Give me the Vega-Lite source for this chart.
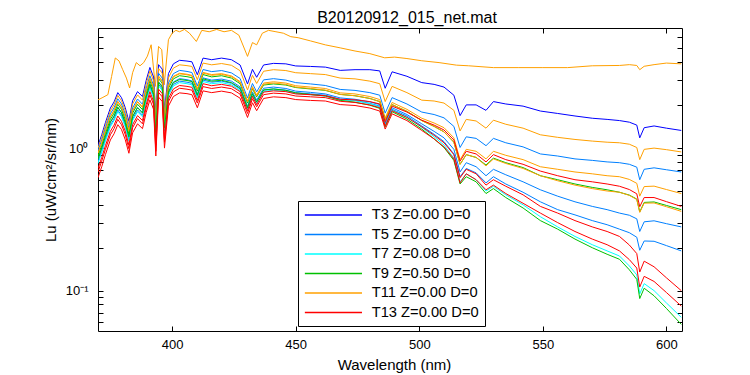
{
"$schema": "https://vega.github.io/schema/vega-lite/v6.json",
"width": 584, "height": 303,
"autosize": {"type": "none"},
"padding": {"left": 98, "top": 28, "right": 68, "bottom": 44},
"background": "white",
"title": {"text": "B20120912_015_net.mat", "font": "Liberation Sans", "fontSize": 16, "fontWeight": "normal", "color": "black", "anchor": "middle", "baseline": "alphabetic", "offset": 6, "dx": 17, "dy": 18},
"config": {"view": {"stroke": "black", "strokeWidth": 1}, "font": "Liberation Sans"},
"resolve": {"axis": {"x": "independent", "y": "independent"}},
"datasets": {"d": [
{"s":"a","w":370,"v":2.18},{"s":"a","w":372,"v":2.27},{"s":"a","w":374,"v":2.37},{"s":"a","w":375.5,"v":3.18},{"s":"a","w":377,"v":4.29},{"s":"a","w":378.5,"v":4.09},{"s":"a","w":380,"v":3.55},{"s":"a","w":381.5,"v":3.1},{"s":"a","w":382.8,"v":2.64},{"s":"a","w":384,"v":3.38},{"s":"a","w":385.5,"v":3.98},{"s":"a","w":387,"v":3.78},{"s":"a","w":388.5,"v":3.98},{"s":"a","w":390,"v":4.42},{"s":"a","w":391.5,"v":5.31},{"s":"a","w":393.2,"v":2.71},{"s":"a","w":394.5,"v":5.17},{"s":"a","w":395.8,"v":4.9},{"s":"a","w":396.8,"v":2.78},{"s":"a","w":398.5,"v":5.76},{"s":"a","w":400,"v":6.41},{"s":"a","w":401.5,"v":6.7},{"s":"a","w":403,"v":6.55},{"s":"a","w":405,"v":6.8},{"s":"a","w":407,"v":6.4},{"s":"a","w":409.8,"v":5.6},{"s":"a","w":412,"v":6.7},{"s":"a","w":415,"v":6.55},{"s":"a","w":418,"v":6.8},{"s":"a","w":421,"v":6.55},{"s":"a","w":424,"v":6.7},{"s":"a","w":427,"v":6.2},{"s":"a","w":430.5,"v":4.4},{"s":"a","w":432.5,"v":5.5},{"s":"a","w":434.2,"v":5.3},{"s":"a","w":436.5,"v":6.4},{"s":"a","w":439,"v":6.7},{"s":"a","w":442,"v":6.55},{"s":"a","w":445,"v":6.4},{"s":"a","w":448,"v":6.05},{"s":"a","w":451,"v":5.95},{"s":"a","w":456,"v":5.65},{"s":"a","w":462,"v":5.3},{"s":"a","w":468,"v":5.05},{"s":"a","w":474,"v":4.8},{"s":"a","w":480,"v":4.6},{"s":"a","w":486,"v":4.3},{"s":"a","w":490,"v":4.35},{"s":"a","w":495,"v":4.25},{"s":"a","w":501,"v":4.1},{"s":"a","w":508,"v":3.98},{"s":"a","w":515,"v":3.82},{"s":"a","w":520,"v":3.78},{"s":"a","w":530,"v":3.67},{"s":"a","w":540,"v":3.67},{"s":"a","w":550,"v":3.67},{"s":"a","w":560,"v":3.67},{"s":"a","w":570,"v":3.78},{"s":"a","w":581,"v":3.8},{"s":"a","w":585,"v":3.85},{"s":"a","w":588,"v":3.8},{"s":"a","w":589.2,"v":3.55},{"s":"a","w":591,"v":3.75},{"s":"a","w":595,"v":3.85},{"s":"a","w":600,"v":3.95},{"s":"a","w":606,"v":3.9},
{"s":"b","w":370,"v":1.04},{"s":"b","w":371.5,"v":1.24},{"s":"b","w":373,"v":1.51},{"s":"b","w":375,"v":1.91},{"s":"b","w":376.5,"v":2.11},{"s":"b","w":378,"v":2.45},{"s":"b","w":379.5,"v":2.26},{"s":"b","w":381,"v":1.93},{"s":"b","w":382.5,"v":1.54},{"s":"b","w":384,"v":2.15},
{"s":"b","w":386,"v":2.49},{"s":"b","w":388,"v":2.3},{"s":"b","w":389.5,"v":2.99},{"s":"b","w":391,"v":3.68},{"s":"b","w":392.5,"v":3.15},{"s":"b","w":393.4,"v":1.71},{"s":"b","w":394.5,"v":3.85},{"s":"b","w":396,"v":3.58},{"s":"b","w":396.9,"v":1.86},{"s":"b","w":398.5,"v":3.33},
{"s":"b","w":400.5,"v":3.9},{"s":"b","w":403,"v":4.13},{"s":"b","w":406,"v":4.08},{"s":"b","w":408,"v":4.03},{"s":"b","w":410.2,"v":3.27},{"s":"b","w":412.5,"v":4.28},{"s":"b","w":416,"v":4.17},{"s":"b","w":420,"v":4.28},{"s":"b","w":424,"v":4.17},{"s":"b","w":427.5,"v":3.83},
{"s":"b","w":430.5,"v":2.82},{"s":"b","w":432.5,"v":3.57},{"s":"b","w":434.2,"v":3.14},{"s":"b","w":437,"v":3.83},{"s":"b","w":441,"v":3.93},{"s":"b","w":446,"v":3.9},{"s":"b","w":450,"v":3.77},{"s":"b","w":456,"v":3.74},{"s":"b","w":462,"v":3.7},{"s":"b","w":468,"v":3.51},
{"s":"b","w":474,"v":3.55},{"s":"b","w":480,"v":3.55},{"s":"b","w":484,"v":3.48},{"s":"b","w":486.2,"v":2.63},{"s":"b","w":489,"v":3.43},{"s":"b","w":495,"v":3.19},{"s":"b","w":501,"v":2.88},{"s":"b","w":506,"v":2.8},{"s":"b","w":510,"v":2.68},{"s":"b","w":514,"v":2.35},
{"s":"b","w":516.5,"v":1.69},{"s":"b","w":519,"v":2.01},{"s":"b","w":523,"v":2.01},{"s":"b","w":527,"v":1.84},{"s":"b","w":530,"v":2.12},{"s":"b","w":535,"v":2.04},{"s":"b","w":542,"v":1.97},{"s":"b","w":549,"v":1.82},{"s":"b","w":556,"v":1.75},{"s":"b","w":563,"v":1.68},
{"s":"b","w":570,"v":1.62},{"s":"b","w":576,"v":1.59},{"s":"b","w":581,"v":1.56},{"s":"b","w":585,"v":1.52},{"s":"b","w":588,"v":1.45},{"s":"b","w":589.2,"v":1.18},{"s":"b","w":591,"v":1.39},{"s":"b","w":595,"v":1.43},{"s":"b","w":600,"v":1.38},{"s":"b","w":606,"v":1.33},
{"s":"c","w":370,"v":1.0},{"s":"c","w":371.5,"v":1.19},{"s":"c","w":373,"v":1.44},{"s":"c","w":375,"v":1.82},{"s":"c","w":376.5,"v":2.02},{"s":"c","w":378,"v":2.34},{"s":"c","w":379.5,"v":2.15},{"s":"c","w":381,"v":1.84},{"s":"c","w":382.5,"v":1.46},{"s":"c","w":384,"v":2.04},
{"s":"c","w":386,"v":2.36},{"s":"c","w":388,"v":2.17},{"s":"c","w":389.5,"v":2.82},{"s":"c","w":391,"v":3.47},{"s":"c","w":392.5,"v":2.96},{"s":"c","w":393.4,"v":1.61},{"s":"c","w":394.5,"v":3.61},{"s":"c","w":396,"v":3.36},{"s":"c","w":396.9,"v":1.75},{"s":"c","w":398.5,"v":3.11},
{"s":"c","w":400.5,"v":3.64},{"s":"c","w":403,"v":3.84},{"s":"c","w":406,"v":3.79},{"s":"c","w":408,"v":3.74},{"s":"c","w":410.2,"v":3.02},{"s":"c","w":412.5,"v":3.95},{"s":"c","w":416,"v":3.84},{"s":"c","w":420,"v":3.92},{"s":"c","w":424,"v":3.81},{"s":"c","w":427.5,"v":3.49},
{"s":"c","w":430.5,"v":2.56},{"s":"c","w":432.5,"v":3.24},{"s":"c","w":434.2,"v":2.84},{"s":"c","w":437,"v":3.46},{"s":"c","w":441,"v":3.55},{"s":"c","w":446,"v":3.5},{"s":"c","w":450,"v":3.38},{"s":"c","w":456,"v":3.33},{"s":"c","w":462,"v":3.28},{"s":"c","w":468,"v":3.1},
{"s":"c","w":474,"v":3.06},{"s":"c","w":480,"v":2.95},{"s":"c","w":484,"v":2.83},{"s":"c","w":486.2,"v":2.12},{"s":"c","w":489,"v":2.71},{"s":"c","w":495,"v":2.45},{"s":"c","w":501,"v":2.17},{"s":"c","w":506,"v":2.14},{"s":"c","w":510,"v":2.07},{"s":"c","w":514,"v":1.84},
{"s":"c","w":516.5,"v":1.32},{"s":"c","w":519,"v":1.59},{"s":"c","w":523,"v":1.55},{"s":"c","w":527,"v":1.38},{"s":"c","w":530,"v":1.57},{"s":"c","w":535,"v":1.47},{"s":"c","w":542,"v":1.38},{"s":"c","w":549,"v":1.24},{"s":"c","w":556,"v":1.19},{"s":"c","w":563,"v":1.15},
{"s":"c","w":570,"v":1.12},{"s":"c","w":576,"v":1.1},{"s":"c","w":581,"v":1.09},{"s":"c","w":585,"v":1.065},{"s":"c","w":588,"v":1.01},{"s":"c","w":589.2,"v":0.83},{"s":"c","w":591,"v":0.98},{"s":"c","w":595,"v":1.0},{"s":"c","w":600,"v":0.975},{"s":"c","w":606,"v":0.94},
{"s":"d","w":370,"v":0.96},{"s":"d","w":371.5,"v":1.14},{"s":"d","w":373,"v":1.38},{"s":"d","w":375,"v":1.74},{"s":"d","w":376.5,"v":1.92},{"s":"d","w":378,"v":2.22},{"s":"d","w":379.5,"v":2.04},{"s":"d","w":381,"v":1.74},{"s":"d","w":382.5,"v":1.38},{"s":"d","w":384,"v":1.91},
{"s":"d","w":386,"v":2.21},{"s":"d","w":388,"v":2.03},{"s":"d","w":389.5,"v":2.63},{"s":"d","w":391,"v":3.22},{"s":"d","w":392.5,"v":2.75},{"s":"d","w":393.4,"v":1.49},{"s":"d","w":394.5,"v":3.35},{"s":"d","w":396,"v":3.1},{"s":"d","w":396.9,"v":1.61},{"s":"d","w":398.5,"v":2.86},
{"s":"d","w":400.5,"v":3.33},{"s":"d","w":403,"v":3.51},{"s":"d","w":406,"v":3.45},{"s":"d","w":408,"v":3.39},{"s":"d","w":410.2,"v":2.73},{"s":"d","w":412.5,"v":3.56},{"s":"d","w":416,"v":3.44},{"s":"d","w":420,"v":3.5},{"s":"d","w":424,"v":3.37},{"s":"d","w":427.5,"v":3.08},
{"s":"d","w":430.5,"v":2.25},{"s":"d","w":432.5,"v":2.84},{"s":"d","w":434.2,"v":2.48},{"s":"d","w":437,"v":3.01},{"s":"d","w":441,"v":3.07},{"s":"d","w":446,"v":3.0},{"s":"d","w":450,"v":2.88},{"s":"d","w":456,"v":2.82},{"s":"d","w":462,"v":2.75},{"s":"d","w":468,"v":2.58},
{"s":"d","w":474,"v":2.54},{"s":"d","w":480,"v":2.45},{"s":"d","w":484,"v":2.35},{"s":"d","w":486.2,"v":1.76},{"s":"d","w":489,"v":2.26},{"s":"d","w":495,"v":2.04},{"s":"d","w":501,"v":1.79},{"s":"d","w":506,"v":1.72},{"s":"d","w":510,"v":1.63},{"s":"d","w":514,"v":1.42},
{"s":"d","w":516.5,"v":1.01},{"s":"d","w":519,"v":1.2},{"s":"d","w":523,"v":1.17},{"s":"d","w":527,"v":1.04},{"s":"d","w":530,"v":1.17},{"s":"d","w":535,"v":1.09},{"s":"d","w":542,"v":1.02},{"s":"d","w":549,"v":0.91},{"s":"d","w":556,"v":0.88},{"s":"d","w":563,"v":0.84},
{"s":"d","w":570,"v":0.82},{"s":"d","w":576,"v":0.8},{"s":"d","w":581,"v":0.79},{"s":"d","w":585,"v":0.77},{"s":"d","w":588,"v":0.735},{"s":"d","w":589.2,"v":0.6},{"s":"d","w":591,"v":0.71},{"s":"d","w":595,"v":0.727},{"s":"d","w":600,"v":0.705},{"s":"d","w":606,"v":0.68},
{"s":"e","w":370,"v":0.92},{"s":"e","w":371.5,"v":1.09},{"s":"e","w":373,"v":1.32},{"s":"e","w":375,"v":1.66},{"s":"e","w":376.5,"v":1.84},{"s":"e","w":378,"v":2.12},{"s":"e","w":379.5,"v":1.95},{"s":"e","w":381,"v":1.66},{"s":"e","w":382.5,"v":1.32},{"s":"e","w":384,"v":1.83},
{"s":"e","w":386,"v":2.12},{"s":"e","w":388,"v":1.94},{"s":"e","w":389.5,"v":2.51},{"s":"e","w":391,"v":3.08},{"s":"e","w":392.5,"v":2.62},{"s":"e","w":393.4,"v":1.43},{"s":"e","w":394.5,"v":3.2},{"s":"e","w":396,"v":2.96},{"s":"e","w":396.9,"v":1.54},{"s":"e","w":398.5,"v":2.73},
{"s":"e","w":400.5,"v":3.19},{"s":"e","w":403,"v":3.35},{"s":"e","w":406,"v":3.3},{"s":"e","w":408,"v":3.24},{"s":"e","w":410.2,"v":2.61},{"s":"e","w":412.5,"v":3.4},{"s":"e","w":416,"v":3.28},{"s":"e","w":420,"v":3.33},{"s":"e","w":424,"v":3.21},{"s":"e","w":427.5,"v":2.93},
{"s":"e","w":430.5,"v":2.14},{"s":"e","w":432.5,"v":2.7},{"s":"e","w":434.2,"v":2.36},{"s":"e","w":437,"v":2.86},{"s":"e","w":441,"v":2.92},{"s":"e","w":446,"v":2.86},{"s":"e","w":450,"v":2.74},{"s":"e","w":456,"v":2.68},{"s":"e","w":462,"v":2.62},{"s":"e","w":468,"v":2.44},
{"s":"e","w":474,"v":2.4},{"s":"e","w":480,"v":2.3},{"s":"e","w":484,"v":2.19},{"s":"e","w":486.2,"v":1.63},{"s":"e","w":489,"v":2.09},{"s":"e","w":495,"v":1.87},{"s":"e","w":501,"v":1.62},{"s":"e","w":506,"v":1.5},{"s":"e","w":510,"v":1.39},{"s":"e","w":514,"v":1.18},
{"s":"e","w":516.5,"v":0.83},{"s":"e","w":519,"v":0.98},{"s":"e","w":523,"v":0.95},{"s":"e","w":527,"v":0.84},{"s":"e","w":530,"v":0.95},{"s":"e","w":535,"v":0.89},{"s":"e","w":542,"v":0.83},{"s":"e","w":549,"v":0.74},{"s":"e","w":556,"v":0.71},{"s":"e","w":563,"v":0.68},
{"s":"e","w":570,"v":0.66},{"s":"e","w":576,"v":0.64},{"s":"e","w":581,"v":0.63},{"s":"e","w":585,"v":0.603},{"s":"e","w":588,"v":0.566},{"s":"e","w":589.2,"v":0.46},{"s":"e","w":591,"v":0.537},{"s":"e","w":595,"v":0.541},{"s":"e","w":600,"v":0.512},{"s":"e","w":606,"v":0.48},
{"s":"f","w":370,"v":0.84},{"s":"f","w":371.5,"v":1.0},{"s":"f","w":373,"v":1.21},{"s":"f","w":375,"v":1.52},{"s":"f","w":376.5,"v":1.68},{"s":"f","w":378,"v":1.94},{"s":"f","w":379.5,"v":1.78},{"s":"f","w":381,"v":1.52},{"s":"f","w":382.5,"v":1.2},{"s":"f","w":384,"v":1.67},
{"s":"f","w":386,"v":1.93},{"s":"f","w":388,"v":1.78},{"s":"f","w":389.5,"v":2.3},{"s":"f","w":391,"v":2.82},{"s":"f","w":392.5,"v":2.4},{"s":"f","w":393.4,"v":1.3},{"s":"f","w":394.5,"v":2.92},{"s":"f","w":396,"v":2.71},{"s":"f","w":396.9,"v":1.41},{"s":"f","w":398.5,"v":2.5},
{"s":"f","w":400.5,"v":2.91},{"s":"f","w":403,"v":3.07},{"s":"f","w":406,"v":3.02},{"s":"f","w":408,"v":2.96},{"s":"f","w":410.2,"v":2.39},{"s":"f","w":412.5,"v":3.11},{"s":"f","w":416,"v":3.0},{"s":"f","w":420,"v":3.05},{"s":"f","w":424,"v":2.95},{"s":"f","w":427.5,"v":2.69},
{"s":"f","w":430.5,"v":1.96},{"s":"f","w":432.5,"v":2.48},{"s":"f","w":434.2,"v":2.17},{"s":"f","w":437,"v":2.63},{"s":"f","w":441,"v":2.68},{"s":"f","w":446,"v":2.62},{"s":"f","w":450,"v":2.51},{"s":"f","w":456,"v":2.46},{"s":"f","w":462,"v":2.4},{"s":"f","w":468,"v":2.25},
{"s":"f","w":474,"v":2.2},{"s":"f","w":480,"v":2.11},{"s":"f","w":484,"v":2.02},{"s":"f","w":486.2,"v":1.5},{"s":"f","w":489,"v":1.92},{"s":"f","w":495,"v":1.72},{"s":"f","w":501,"v":1.48},{"s":"f","w":506,"v":1.31},{"s":"f","w":510,"v":1.18},{"s":"f","w":514,"v":0.98},
{"s":"f","w":516.5,"v":0.68},{"s":"f","w":519,"v":0.79},{"s":"f","w":523,"v":0.74},{"s":"f","w":527,"v":0.64},{"s":"f","w":530,"v":0.71},{"s":"f","w":535,"v":0.65},{"s":"f","w":542,"v":0.58},{"s":"f","w":549,"v":0.51},{"s":"f","w":556,"v":0.46},{"s":"f","w":563,"v":0.42},
{"s":"f","w":570,"v":0.39},{"s":"f","w":576,"v":0.37},{"s":"f","w":581,"v":0.35},{"s":"f","w":585,"v":0.338},{"s":"f","w":588,"v":0.319},{"s":"f","w":589.2,"v":0.26},{"s":"f","w":591,"v":0.304},{"s":"f","w":595,"v":0.309},{"s":"f","w":600,"v":0.295},{"s":"f","w":606,"v":0.28},
{"s":"g","w":370,"v":0.8},{"s":"g","w":371.5,"v":0.95},{"s":"g","w":373,"v":1.15},{"s":"g","w":375,"v":1.45},{"s":"g","w":376.5,"v":1.6},{"s":"g","w":378,"v":1.85},{"s":"g","w":379.5,"v":1.7},{"s":"g","w":381,"v":1.45},{"s":"g","w":382.5,"v":1.15},{"s":"g","w":384,"v":1.6},
{"s":"g","w":386,"v":1.85},{"s":"g","w":388,"v":1.7},{"s":"g","w":389.5,"v":2.2},{"s":"g","w":391,"v":2.7},{"s":"g","w":392.5,"v":2.3},{"s":"g","w":393.4,"v":1.25},{"s":"g","w":394.5,"v":2.8},{"s":"g","w":396,"v":2.6},{"s":"g","w":396.9,"v":1.35},{"s":"g","w":398.5,"v":2.4},
{"s":"g","w":400.5,"v":2.8},{"s":"g","w":403,"v":2.95},{"s":"g","w":406,"v":2.9},{"s":"g","w":408,"v":2.85},{"s":"g","w":410.2,"v":2.3},{"s":"g","w":412.5,"v":3.0},{"s":"g","w":416,"v":2.9},{"s":"g","w":420,"v":2.95},{"s":"g","w":424,"v":2.85},{"s":"g","w":427.5,"v":2.6},
{"s":"g","w":430.5,"v":1.9},{"s":"g","w":432.5,"v":2.4},{"s":"g","w":434.2,"v":2.1},{"s":"g","w":437,"v":2.55},{"s":"g","w":441,"v":2.6},{"s":"g","w":446,"v":2.55},{"s":"g","w":450,"v":2.45},{"s":"g","w":456,"v":2.4},{"s":"g","w":462,"v":2.35},{"s":"g","w":468,"v":2.2},
{"s":"g","w":474,"v":2.16},{"s":"g","w":480,"v":2.06},{"s":"g","w":484,"v":1.97},{"s":"g","w":486.2,"v":1.47},{"s":"g","w":489,"v":1.87},{"s":"g","w":495,"v":1.68},{"s":"g","w":501,"v":1.43},{"s":"g","w":506,"v":1.25},{"s":"g","w":510,"v":1.11},{"s":"g","w":514,"v":0.91},
{"s":"g","w":516.5,"v":0.63},{"s":"g","w":519,"v":0.72},{"s":"g","w":523,"v":0.67},{"s":"g","w":527,"v":0.57},{"s":"g","w":530,"v":0.63},{"s":"g","w":535,"v":0.56},{"s":"g","w":542,"v":0.49},{"s":"g","w":549,"v":0.42},{"s":"g","w":556,"v":0.37},{"s":"g","w":563,"v":0.34},
{"s":"g","w":570,"v":0.31},{"s":"g","w":576,"v":0.29},{"s":"g","w":581,"v":0.27},{"s":"g","w":585,"v":0.255},{"s":"g","w":588,"v":0.237},{"s":"g","w":589.2,"v":0.192},{"s":"g","w":591,"v":0.223},{"s":"g","w":595,"v":0.222},{"s":"g","w":600,"v":0.207},{"s":"g","w":606,"v":0.19},
{"s":"h","w":370,"v":0.88},{"s":"h","w":371.5,"v":1.045},{"s":"h","w":373,"v":1.27},{"s":"h","w":375,"v":1.59},{"s":"h","w":376.5,"v":1.76},{"s":"h","w":378,"v":2.03},{"s":"h","w":379.5,"v":1.87},{"s":"h","w":381,"v":1.59},{"s":"h","w":382.5,"v":1.26},{"s":"h","w":384,"v":1.76},
{"s":"h","w":386,"v":2.03},{"s":"h","w":388,"v":1.86},{"s":"h","w":389.5,"v":2.41},{"s":"h","w":391,"v":2.96},{"s":"h","w":392.5,"v":2.52},{"s":"h","w":393.4,"v":1.37},{"s":"h","w":394.5,"v":3.07},{"s":"h","w":396,"v":2.85},{"s":"h","w":396.9,"v":1.48},{"s":"h","w":398.5,"v":2.63},
{"s":"h","w":400.5,"v":3.06},{"s":"h","w":403,"v":3.22},{"s":"h","w":406,"v":3.17},{"s":"h","w":408,"v":3.12},{"s":"h","w":410.2,"v":2.51},{"s":"h","w":412.5,"v":3.28},{"s":"h","w":416,"v":3.16},{"s":"h","w":420,"v":3.22},{"s":"h","w":424,"v":3.1},{"s":"h","w":427.5,"v":2.83},
{"s":"h","w":430.5,"v":2.07},{"s":"h","w":432.5,"v":2.61},{"s":"h","w":434.2,"v":2.29},{"s":"h","w":437,"v":2.77},{"s":"h","w":441,"v":2.82},{"s":"h","w":446,"v":2.77},{"s":"h","w":450,"v":2.66},{"s":"h","w":456,"v":2.6},{"s":"h","w":462,"v":2.54},{"s":"h","w":468,"v":2.38},
{"s":"h","w":474,"v":2.33},{"s":"h","w":480,"v":2.23},{"s":"h","w":484,"v":2.12},{"s":"h","w":486.2,"v":1.58},{"s":"h","w":489,"v":2.02},{"s":"h","w":495,"v":1.81},{"s":"h","w":501,"v":1.56},{"s":"h","w":506,"v":1.42},{"s":"h","w":510,"v":1.3},{"s":"h","w":514,"v":1.1},
{"s":"h","w":516.5,"v":0.77},{"s":"h","w":519,"v":0.9},{"s":"h","w":523,"v":0.86},{"s":"h","w":527,"v":0.76},{"s":"h","w":530,"v":0.85},{"s":"h","w":535,"v":0.79},{"s":"h","w":542,"v":0.73},{"s":"h","w":549,"v":0.64},{"s":"h","w":556,"v":0.6},{"s":"h","w":563,"v":0.56},
{"s":"h","w":570,"v":0.53},{"s":"h","w":576,"v":0.51},{"s":"h","w":581,"v":0.49},{"s":"h","w":585,"v":0.468},{"s":"h","w":588,"v":0.439},{"s":"h","w":589.2,"v":0.357},{"s":"h","w":591,"v":0.416},{"s":"h","w":595,"v":0.419},{"s":"h","w":600,"v":0.396},{"s":"h","w":606,"v":0.37},
{"s":"i","w":370,"v":0.92},{"s":"i","w":371.5,"v":1.09},{"s":"i","w":373,"v":1.32},{"s":"i","w":375,"v":1.66},{"s":"i","w":376.5,"v":1.83},{"s":"i","w":378,"v":2.12},{"s":"i","w":379.5,"v":1.94},{"s":"i","w":381,"v":1.66},{"s":"i","w":382.5,"v":1.31},{"s":"i","w":384,"v":1.82},
{"s":"i","w":386,"v":2.11},{"s":"i","w":388,"v":1.93},{"s":"i","w":389.5,"v":2.5},{"s":"i","w":391,"v":3.07},{"s":"i","w":392.5,"v":2.61},{"s":"i","w":393.4,"v":1.42},{"s":"i","w":394.5,"v":3.17},{"s":"i","w":396,"v":2.94},{"s":"i","w":396.9,"v":1.53},{"s":"i","w":398.5,"v":2.71},
{"s":"i","w":400.5,"v":3.16},{"s":"i","w":403,"v":3.32},{"s":"i","w":406,"v":3.27},{"s":"i","w":408,"v":3.21},{"s":"i","w":410.2,"v":2.58},{"s":"i","w":412.5,"v":3.36},{"s":"i","w":416,"v":3.24},{"s":"i","w":420,"v":3.29},{"s":"i","w":424,"v":3.17},{"s":"i","w":427.5,"v":2.89},
{"s":"i","w":430.5,"v":2.11},{"s":"i","w":432.5,"v":2.65},{"s":"i","w":434.2,"v":2.32},{"s":"i","w":437,"v":2.81},{"s":"i","w":441,"v":2.86},{"s":"i","w":446,"v":2.8},{"s":"i","w":450,"v":2.68},{"s":"i","w":456,"v":2.62},{"s":"i","w":462,"v":2.55},{"s":"i","w":468,"v":2.38},
{"s":"i","w":474,"v":2.33},{"s":"i","w":480,"v":2.23},{"s":"i","w":484,"v":2.12},{"s":"i","w":486.2,"v":1.58},{"s":"i","w":489,"v":2.02},{"s":"i","w":495,"v":1.81},{"s":"i","w":501,"v":1.56},{"s":"i","w":506,"v":1.42},{"s":"i","w":510,"v":1.3},{"s":"i","w":514,"v":1.1},
{"s":"i","w":516.5,"v":0.77},{"s":"i","w":519,"v":0.9},{"s":"i","w":523,"v":0.86},{"s":"i","w":527,"v":0.75},{"s":"i","w":530,"v":0.84},{"s":"i","w":535,"v":0.78},{"s":"i","w":542,"v":0.72},{"s":"i","w":549,"v":0.64},{"s":"i","w":556,"v":0.59},{"s":"i","w":563,"v":0.55},
{"s":"i","w":570,"v":0.52},{"s":"i","w":576,"v":0.5},{"s":"i","w":581,"v":0.49},{"s":"i","w":585,"v":0.466},{"s":"i","w":588,"v":0.436},{"s":"i","w":589.2,"v":0.354},{"s":"i","w":591,"v":0.411},{"s":"i","w":595,"v":0.412},{"s":"i","w":600,"v":0.388},{"s":"i","w":606,"v":0.36},
{"s":"j","w":370,"v":0.78},{"s":"j","w":371.5,"v":0.93},{"s":"j","w":373,"v":1.12},{"s":"j","w":375,"v":1.41},{"s":"j","w":376.5,"v":1.56},{"s":"j","w":378,"v":1.8},{"s":"j","w":379.5,"v":1.66},{"s":"j","w":381,"v":1.41},{"s":"j","w":382.5,"v":1.12},{"s":"j","w":384,"v":1.56},
{"s":"j","w":386,"v":1.8},{"s":"j","w":388,"v":1.66},{"s":"j","w":389.5,"v":2.15},{"s":"j","w":391,"v":2.63},{"s":"j","w":392.5,"v":2.24},{"s":"j","w":393.4,"v":1.22},{"s":"j","w":394.5,"v":2.73},{"s":"j","w":396,"v":2.54},{"s":"j","w":396.9,"v":1.32},{"s":"j","w":398.5,"v":2.34},
{"s":"j","w":400.5,"v":2.73},{"s":"j","w":403,"v":2.88},{"s":"j","w":406,"v":2.83},{"s":"j","w":408,"v":2.78},{"s":"j","w":410.2,"v":2.25},{"s":"j","w":412.5,"v":2.93},{"s":"j","w":416,"v":2.83},{"s":"j","w":420,"v":2.88},{"s":"j","w":424,"v":2.78},{"s":"j","w":427.5,"v":2.54},
{"s":"j","w":430.5,"v":1.86},{"s":"j","w":432.5,"v":2.35},{"s":"j","w":434.2,"v":2.06},{"s":"j","w":437,"v":2.5},{"s":"j","w":441,"v":2.55},{"s":"j","w":446,"v":2.5},{"s":"j","w":450,"v":2.41},{"s":"j","w":456,"v":2.37},{"s":"j","w":462,"v":2.32},{"s":"j","w":468,"v":2.18},
{"s":"j","w":474,"v":2.15},{"s":"j","w":480,"v":2.05},{"s":"j","w":484,"v":1.95},{"s":"j","w":486.2,"v":1.45},{"s":"j","w":489,"v":1.85},{"s":"j","w":495,"v":1.65},{"s":"j","w":501,"v":1.4},{"s":"j","w":506,"v":1.2},{"s":"j","w":510,"v":1.05},{"s":"j","w":514,"v":0.85},
{"s":"j","w":516.5,"v":0.58},{"s":"j","w":519,"v":0.66},{"s":"j","w":523,"v":0.6},{"s":"j","w":527,"v":0.5},{"s":"j","w":530,"v":0.54},{"s":"j","w":535,"v":0.47},{"s":"j","w":542,"v":0.4},{"s":"j","w":549,"v":0.33},{"s":"j","w":556,"v":0.28},{"s":"j","w":563,"v":0.24},
{"s":"j","w":570,"v":0.21},{"s":"j","w":576,"v":0.19},{"s":"j","w":581,"v":0.175},{"s":"j","w":585,"v":0.149},{"s":"j","w":588,"v":0.129},{"s":"j","w":589.2,"v":0.095},{"s":"j","w":591,"v":0.112},{"s":"j","w":595,"v":0.1},{"s":"j","w":600,"v":0.082},{"s":"j","w":606,"v":0.065},
{"s":"k","w":370,"v":0.84},{"s":"k","w":371.5,"v":1.0},{"s":"k","w":373,"v":1.21},{"s":"k","w":375,"v":1.52},{"s":"k","w":376.5,"v":1.67},{"s":"k","w":378,"v":1.93},{"s":"k","w":379.5,"v":1.77},{"s":"k","w":381,"v":1.51},{"s":"k","w":382.5,"v":1.2},{"s":"k","w":384,"v":1.66},
{"s":"k","w":386,"v":1.92},{"s":"k","w":388,"v":1.76},{"s":"k","w":389.5,"v":2.28},{"s":"k","w":391,"v":2.8},{"s":"k","w":392.5,"v":2.38},{"s":"k","w":393.4,"v":1.29},{"s":"k","w":394.5,"v":2.89},{"s":"k","w":396,"v":2.68},{"s":"k","w":396.9,"v":1.39},{"s":"k","w":398.5,"v":2.47},
{"s":"k","w":400.5,"v":2.88},{"s":"k","w":403,"v":3.03},{"s":"k","w":406,"v":2.98},{"s":"k","w":408,"v":2.93},{"s":"k","w":410.2,"v":2.35},{"s":"k","w":412.5,"v":3.06},{"s":"k","w":416,"v":2.95},{"s":"k","w":420,"v":2.99},{"s":"k","w":424,"v":2.88},{"s":"k","w":427.5,"v":2.63},
{"s":"k","w":430.5,"v":1.92},{"s":"k","w":432.5,"v":2.41},{"s":"k","w":434.2,"v":2.11},{"s":"k","w":437,"v":2.56},{"s":"k","w":441,"v":2.6},{"s":"k","w":446,"v":2.54},{"s":"k","w":450,"v":2.44},{"s":"k","w":456,"v":2.38},{"s":"k","w":462,"v":2.32},{"s":"k","w":468,"v":2.16},
{"s":"k","w":474,"v":2.1},{"s":"k","w":480,"v":2.0},{"s":"k","w":484,"v":1.9},{"s":"k","w":486.2,"v":1.41},{"s":"k","w":489,"v":1.8},{"s":"k","w":495,"v":1.6},{"s":"k","w":501,"v":1.36},{"s":"k","w":506,"v":1.16},{"s":"k","w":510,"v":1.01},{"s":"k","w":514,"v":0.82},
{"s":"k","w":516.5,"v":0.56},{"s":"k","w":519,"v":0.63},{"s":"k","w":523,"v":0.58},{"s":"k","w":527,"v":0.48},{"s":"k","w":530,"v":0.52},{"s":"k","w":535,"v":0.45},{"s":"k","w":542,"v":0.38},{"s":"k","w":549,"v":0.31},{"s":"k","w":556,"v":0.27},{"s":"k","w":563,"v":0.23},
{"s":"k","w":570,"v":0.2},{"s":"k","w":576,"v":0.18},{"s":"k","w":581,"v":0.166},{"s":"k","w":585,"v":0.14},{"s":"k","w":588,"v":0.12},{"s":"k","w":589.2,"v":0.088},{"s":"k","w":591,"v":0.104},{"s":"k","w":595,"v":0.092},{"s":"k","w":600,"v":0.075},{"s":"k","w":606,"v":0.058},
{"s":"l","w":370,"v":0.72},{"s":"l","w":371.5,"v":0.86},{"s":"l","w":373,"v":1.04},{"s":"l","w":375,"v":1.31},{"s":"l","w":376.5,"v":1.45},{"s":"l","w":378,"v":1.68},{"s":"l","w":379.5,"v":1.54},{"s":"l","w":381,"v":1.32},{"s":"l","w":382.5,"v":1.05},{"s":"l","w":384,"v":1.46},
{"s":"l","w":386,"v":1.69},{"s":"l","w":388,"v":1.56},{"s":"l","w":389.5,"v":2.02},{"s":"l","w":391,"v":2.49},{"s":"l","w":392.5,"v":2.12},{"s":"l","w":393.4,"v":1.05},{"s":"l","w":394.5,"v":2.59},{"s":"l","w":396,"v":2.41},{"s":"l","w":396.9,"v":1.15},{"s":"l","w":398.5,"v":2.23},
{"s":"l","w":400.5,"v":2.6},{"s":"l","w":403,"v":2.75},{"s":"l","w":406,"v":2.71},{"s":"l","w":408,"v":2.67},{"s":"l","w":410.2,"v":2.16},{"s":"l","w":412.5,"v":2.83},{"s":"l","w":416,"v":2.74},{"s":"l","w":420,"v":2.8},{"s":"l","w":424,"v":2.72},{"s":"l","w":427.5,"v":2.49},
{"s":"l","w":430.5,"v":1.83},{"s":"l","w":432.5,"v":2.31},{"s":"l","w":434.2,"v":2.02},{"s":"l","w":437,"v":2.47},{"s":"l","w":441,"v":2.52},{"s":"l","w":446,"v":2.49},{"s":"l","w":450,"v":2.4},{"s":"l","w":456,"v":2.37},{"s":"l","w":462,"v":2.33},{"s":"l","w":468,"v":2.2},
{"s":"l","w":474,"v":2.18},{"s":"l","w":480,"v":2.12},{"s":"l","w":484,"v":2.04},{"s":"l","w":486.2,"v":1.53},{"s":"l","w":489,"v":1.97},{"s":"l","w":495,"v":1.79},{"s":"l","w":501,"v":1.57},{"s":"l","w":506,"v":1.45},{"s":"l","w":510,"v":1.34},{"s":"l","w":514,"v":1.14},
{"s":"l","w":516.5,"v":0.81},{"s":"l","w":519,"v":0.95},{"s":"l","w":523,"v":0.91},{"s":"l","w":527,"v":0.8},{"s":"l","w":530,"v":0.9},{"s":"l","w":535,"v":0.83},{"s":"l","w":542,"v":0.77},{"s":"l","w":549,"v":0.69},{"s":"l","w":556,"v":0.64},{"s":"l","w":563,"v":0.6},
{"s":"l","w":570,"v":0.58},{"s":"l","w":576,"v":0.56},{"s":"l","w":581,"v":0.54},{"s":"l","w":585,"v":0.512},{"s":"l","w":588,"v":0.478},{"s":"l","w":589.2,"v":0.388},{"s":"l","w":591,"v":0.45},{"s":"l","w":595,"v":0.45},{"s":"l","w":600,"v":0.421},{"s":"l","w":606,"v":0.39},
{"s":"m","w":370,"v":0.68},{"s":"m","w":371.5,"v":0.81},{"s":"m","w":373,"v":0.98},{"s":"m","w":375,"v":1.24},{"s":"m","w":376.5,"v":1.37},{"s":"m","w":378,"v":1.59},{"s":"m","w":379.5,"v":1.46},{"s":"m","w":381,"v":1.25},{"s":"m","w":382.5,"v":0.99},{"s":"m","w":384,"v":1.39},
{"s":"m","w":386,"v":1.61},{"s":"m","w":388,"v":1.48},{"s":"m","w":389.5,"v":1.92},{"s":"m","w":391,"v":2.36},{"s":"m","w":392.5,"v":2.02},{"s":"m","w":393.4,"v":0.95},{"s":"m","w":394.5,"v":2.46},{"s":"m","w":396,"v":2.29},{"s":"m","w":396.9,"v":1.1},{"s":"m","w":398.5,"v":2.12},
{"s":"m","w":400.5,"v":2.48},{"s":"m","w":403,"v":2.63},{"s":"m","w":406,"v":2.59},{"s":"m","w":408,"v":2.55},{"s":"m","w":410.2,"v":2.07},{"s":"m","w":412.5,"v":2.7},{"s":"m","w":416,"v":2.62},{"s":"m","w":420,"v":2.68},{"s":"m","w":424,"v":2.61},{"s":"m","w":427.5,"v":2.39},
{"s":"m","w":430.5,"v":1.75},{"s":"m","w":432.5,"v":2.22},{"s":"m","w":434.2,"v":1.95},{"s":"m","w":437,"v":2.37},{"s":"m","w":441,"v":2.43},{"s":"m","w":446,"v":2.4},{"s":"m","w":450,"v":2.32},{"s":"m","w":456,"v":2.29},{"s":"m","w":462,"v":2.26},{"s":"m","w":468,"v":2.13},
{"s":"m","w":474,"v":2.09},{"s":"m","w":480,"v":2.01},{"s":"m","w":484,"v":1.92},{"s":"m","w":486.2,"v":1.43},{"s":"m","w":489,"v":1.83},{"s":"m","w":495,"v":1.64},{"s":"m","w":501,"v":1.41},{"s":"m","w":506,"v":1.23},{"s":"m","w":510,"v":1.09},{"s":"m","w":514,"v":0.9},
{"s":"m","w":516.5,"v":0.62},{"s":"m","w":519,"v":0.71},{"s":"m","w":523,"v":0.66},{"s":"m","w":527,"v":0.55},{"s":"m","w":530,"v":0.6},{"s":"m","w":535,"v":0.54},{"s":"m","w":542,"v":0.47},{"s":"m","w":549,"v":0.39},{"s":"m","w":556,"v":0.35},{"s":"m","w":563,"v":0.31},
{"s":"m","w":570,"v":0.28},{"s":"m","w":576,"v":0.26},{"s":"m","w":581,"v":0.24},{"s":"m","w":585,"v":0.209},{"s":"m","w":588,"v":0.182},{"s":"m","w":589.2,"v":0.135},{"s":"m","w":591,"v":0.161},{"s":"m","w":595,"v":0.147},{"s":"m","w":600,"v":0.123},{"s":"m","w":606,"v":0.1},
{"s":"n","w":370,"v":0.62},{"s":"n","w":371.5,"v":0.74},{"s":"n","w":373,"v":0.9},{"s":"n","w":375,"v":1.14},{"s":"n","w":376.5,"v":1.26},{"s":"n","w":378,"v":1.46},{"s":"n","w":379.5,"v":1.35},{"s":"n","w":381,"v":1.15},{"s":"n","w":382.5,"v":0.92},{"s":"n","w":384,"v":1.28},
{"s":"n","w":386,"v":1.48},{"s":"n","w":388,"v":1.37},{"s":"n","w":389.5,"v":1.78},{"s":"n","w":391,"v":2.18},{"s":"n","w":392.5,"v":1.87},{"s":"n","w":393.4,"v":0.88},{"s":"n","w":394.5,"v":2.28},{"s":"n","w":396,"v":2.12},{"s":"n","w":396.9,"v":1.0},{"s":"n","w":398.5,"v":1.97},
{"s":"n","w":400.5,"v":2.3},{"s":"n","w":403,"v":2.44},{"s":"n","w":406,"v":2.41},{"s":"n","w":408,"v":2.37},{"s":"n","w":410.2,"v":1.92},{"s":"n","w":412.5,"v":2.52},{"s":"n","w":416,"v":2.45},{"s":"n","w":420,"v":2.51},{"s":"n","w":424,"v":2.44},{"s":"n","w":427.5,"v":2.24},
{"s":"n","w":430.5,"v":1.64},{"s":"n","w":432.5,"v":2.08},{"s":"n","w":434.2,"v":1.83},{"s":"n","w":437,"v":2.23},{"s":"n","w":441,"v":2.29},{"s":"n","w":446,"v":2.26},{"s":"n","w":450,"v":2.19},{"s":"n","w":456,"v":2.16},{"s":"n","w":462,"v":2.14},{"s":"n","w":468,"v":2.02},
{"s":"n","w":474,"v":1.99},{"s":"n","w":480,"v":1.91},{"s":"n","w":484,"v":1.82},{"s":"n","w":486.2,"v":1.36},{"s":"n","w":489,"v":1.74},{"s":"n","w":495,"v":1.56},{"s":"n","w":501,"v":1.33},{"s":"n","w":506,"v":1.16},{"s":"n","w":510,"v":1.02},{"s":"n","w":514,"v":0.84},
{"s":"n","w":516.5,"v":0.57},{"s":"n","w":519,"v":0.66},{"s":"n","w":523,"v":0.6},{"s":"n","w":527,"v":0.51},{"s":"n","w":530,"v":0.55},{"s":"n","w":535,"v":0.48},{"s":"n","w":542,"v":0.41},{"s":"n","w":549,"v":0.35},{"s":"n","w":556,"v":0.3},{"s":"n","w":563,"v":0.26},
{"s":"n","w":570,"v":0.23},{"s":"n","w":576,"v":0.21},{"s":"n","w":581,"v":0.19},{"s":"n","w":585,"v":0.165},{"s":"n","w":588,"v":0.144},{"s":"n","w":589.2,"v":0.106},{"s":"n","w":591,"v":0.126},{"s":"n","w":595,"v":0.116},{"s":"n","w":600,"v":0.097},{"s":"n","w":606,"v":0.078}
]},
"data": {"name": "d"},
"layer": [
{"mark": {"type": "line", "strokeWidth": 1, "clip": true},
 "encoding": {
  "x": {"field": "w", "type": "quantitative", "scale": {"domain": [370, 606.3], "nice": false, "zero": false},
        "axis": {"orient": "bottom", "values": [400, 450, 500, 550, 600], "format": "d", "title": "Wavelength (nm)", "titleFontSize": 15, "titleFontWeight": "normal", "titleColor": "black", "titleX": 296, "titleY": 38, "titleAlign": "center", "titleBaseline": "alphabetic", "labelFontSize": 13, "labelColor": "black", "labelPadding": 12, "labelFlush": false, "tickSize": -5, "tickColor": "black", "domain": false, "grid": false}},
  "y": {"field": "v", "type": "quantitative", "scale": {"type": "log", "domain": [0.0521, 6.96], "nice": false},
        "axis": {"orient": "left", "values": [0.06, 0.07, 0.08, 0.09, 0.1, 0.2, 0.3, 0.4, 0.5, 0.6, 0.7, 0.8, 0.9, 1, 2, 3, 4, 5, 6], "labelExpr": "datum.value == 1 ? '10⁰' : (datum.value == 0.1 ? '10⁻¹' : '')", "labelOverlap": false, "title": "Lu (uW/cm²/sr/nm)", "titleFontSize": 15, "titleFontWeight": "normal", "titleColor": "black", "titleX": -48, "titleY": 151.5, "titleAlign": "center", "titleBaseline": "middle", "titleAngle": -90, "labelFontSize": 13, "labelColor": "black", "labelPadding": 15, "tickSize": -5, "tickColor": "black", "domain": false, "grid": false}},
  "color": {"field": "s", "type": "nominal",
    "scale": {"domain": ["a","b","c","d","e","f","g","h","i","j","k","l","m","n"], "range": ["#ffa000","#0000ff","#ffa000","#0080ff","#ffa000","#0080ff","#0080ff","#00c000","#ffa000","#00ffff","#00c000","#ff0000","#ff0000","#ff0000"]},
    "legend": {"values": ["b","d","j","h","a","l"], "labelExpr": "{'b':'T3 Z=0.00 D=0','d':'T5 Z=0.00 D=0','j':'T7 Z=0.08 D=0','h':'T9 Z=0.50 D=0','a':'T11 Z=0.00 D=0','l':'T13 Z=0.00 D=0'}[datum.value]", "title": null, "orient": "none", "legendX": 200, "legendY": 173, "strokeColor": "black", "fillColor": "white", "padding": 6, "symbolType": "M-1,0H7", "symbolSize": 204, "symbolStrokeWidth": 1.3, "labelFontSize": 14.7, "labelFont": "Liberation Sans", "labelColor": "black", "labelOffset": 51.7, "rowPadding": 4.5, "cornerRadius": 0}}
 }},
{"mark": {"type": "point", "opacity": 0},
 "encoding": {
  "x": {"field": "w", "type": "quantitative", "axis": {"orient": "top", "values": [400, 450, 500, 550, 600], "labels": false, "title": null, "tickSize": -5, "tickColor": "black", "domain": false, "grid": false}},
  "y": {"field": "v", "type": "quantitative", "axis": {"orient": "right", "values": [0.06, 0.07, 0.08, 0.09, 0.1, 0.2, 0.3, 0.4, 0.5, 0.6, 0.7, 0.8, 0.9, 1, 2, 3, 4, 5, 6], "labels": false, "title": null, "tickSize": -5, "tickColor": "black", "domain": false, "grid": false}}
 }}
]
}
